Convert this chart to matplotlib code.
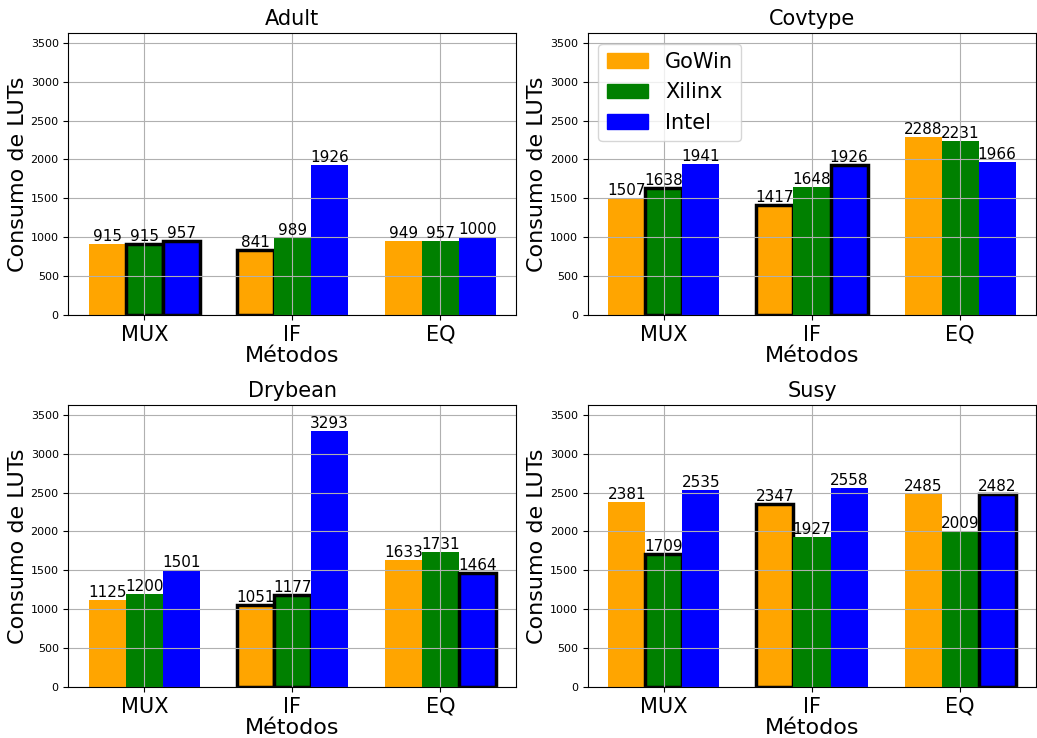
import matplotlib
matplotlib.use("Agg")
import matplotlib.pyplot as plt
from matplotlib.patches import Patch
import numpy as np

# data
methods = ["MUX", "IF", "EQ"]
vendors = ["GoWin", "Xilinx", "Intel"]
colors = ["orange", "green", "blue"]
datasets = ["Adult", "Covtype", "Drybean", "Susy"]

adult = {"GoWin": [915, 841, 949], "Xilinx": [915, 989, 957], "Intel": [957, 1926, 1000]}
covtype = {"GoWin": [1507, 1417, 2288], "Xilinx": [1638, 1648, 2231], "Intel": [1941, 1926, 1966]}
drybean = {"GoWin": [1125, 1051, 1633], "Xilinx": [1200, 1177, 1731], "Intel": [1501, 3293, 1464]}
susy = {"GoWin": [2381, 2347, 2485], "Xilinx": [1709, 1927, 2009], "Intel": [2535, 2558, 2482]}

# bars drawn with black outline (per vendor, per method)
adult_hl = {"GoWin": [0, 1, 0], "Xilinx": [1, 0, 0], "Intel": [1, 0, 0]}
covtype_hl = {"GoWin": [0, 1, 0], "Xilinx": [1, 0, 0], "Intel": [0, 1, 0]}
drybean_hl = {"GoWin": [0, 1, 0], "Xilinx": [0, 1, 0], "Intel": [0, 0, 1]}
susy_hl = {"GoWin": [0, 1, 0], "Xilinx": [1, 0, 0], "Intel": [0, 0, 1]}

all_data = [adult, covtype, drybean, susy]
all_hl = [adult_hl, covtype_hl, drybean_hl, susy_hl]

ymax = max(max(max(v) for v in d.values()) for d in all_data) * 1.1

fig, axes = plt.subplots(2, 2, figsize=(10.37, 7.38), dpi=100)
x = np.arange(len(methods))
width = 0.25

for ax, name, data, hl in zip(axes.flat, datasets, all_data, all_hl):
    for i, (vendor, color) in enumerate(zip(vendors, colors)):
        edges = ["black" if h else color for h in hl[vendor]]
        lws = [2.5 if h else 0 for h in hl[vendor]]
        bars = ax.bar(x + (i - 1) * width, data[vendor], width, color=color,
                      edgecolor=edges, linewidth=lws)
        ax.bar_label(bars, fontsize=11)
    ax.set_title(name, fontsize=15)
    ax.set_xticks(x)
    ax.set_xticklabels(methods, fontsize=15)
    ax.tick_params(axis="y", labelsize=8)
    ax.set_ylim(0, ymax)
    ax.set_xlabel("Métodos", fontsize=16, labelpad=1)
    ax.set_ylabel("Consumo de LUTs", fontsize=16, labelpad=2)
    ax.grid(True)

handles = [Patch(color=c, label=v) for v, c in zip(vendors, colors)]
axes[0, 1].legend(handles=handles, loc="upper left", fontsize=15)

plt.subplots_adjust(left=0.066, right=0.999, top=0.955, bottom=0.069, wspace=0.16, hspace=0.32)
plt.savefig("out.png")
